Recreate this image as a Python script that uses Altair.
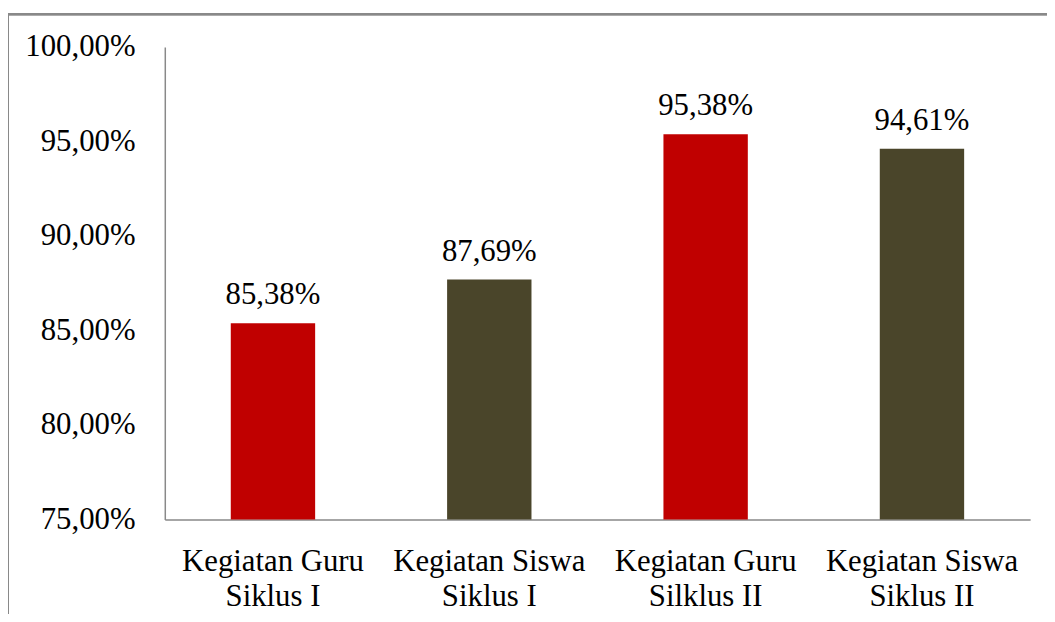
import altair as alt
import pandas as pd

categories = ["Kegiatan Guru|Siklus I", "Kegiatan Siswa|Siklus I",
              "Kegiatan Guru|Silklus II", "Kegiatan Siswa|Siklus II"]
values = [85.38, 87.69, 95.38, 94.61]
colors = ["#C00000", "#4A452A", "#C00000", "#4A452A"]
y_ticks = [75, 80, 85, 90, 95, 100]

df = pd.DataFrame({"cat": categories, "val": values, "color": colors})
df["lbl"] = [f"{v:.2f}".replace(".", ",") + "%" for v in values]

FONT = "Liberation Serif"
FS = 31

x = alt.X("cat:N", sort=categories, title=None,
          scale=alt.Scale(paddingInner=0.61, paddingOuter=0.305),
          axis=alt.Axis(labelAngle=0, labelExpr="split(datum.value, '|')",
                        labelFont=FONT, labelFontSize=FS, labelColor="black",
                        labelPadding=27, labelLineHeight=36, ticks=False,
                        labelLimit=400,
                        domainColor="#898989", domainWidth=1.5, grid=False))
y = alt.Y("val:Q", title=None,
          scale=alt.Scale(domain=[75, 100], zero=False, nice=False),
          axis=alt.Axis(values=y_ticks,
                        labelExpr="replace(format(datum.value, '.2f'), '.', ',') + '%'",
                        labelFont=FONT, labelFontSize=FS, labelColor="black",
                        labelPadding=30, ticks=False, grid=False,
                        domainColor="#898989", domainWidth=1.5))

base = alt.Chart(df)
bars = base.mark_bar().encode(x=x, y=y, y2=alt.datum(75),
                              color=alt.Color("color:N", scale=None))
text = base.mark_text(font=FONT, fontSize=FS, color="black",
                      baseline="alphabetic", dy=-19).encode(
    x=alt.X("cat:N", sort=categories), y="val:Q", text="lbl:N")

border = alt.Chart(df).mark_rect(filled=False, stroke="#898989", strokeWidth=2,
                                 clip=False).encode(
    x=alt.value(-158), x2=alt.value(920), y=alt.value(-33), y2=alt.value(640))

chart = alt.layer(border, bars, text).properties(
    width=872, height=476,
    autosize=alt.AutoSizeParams(type="none"),
    padding={"left": 158, "top": 37, "right": 17, "bottom": 93},
).configure(background="white").configure_view(stroke=None, strokeWidth=0)

chart.save("out.html", embed_options={"renderer": "svg", "actions": False})
